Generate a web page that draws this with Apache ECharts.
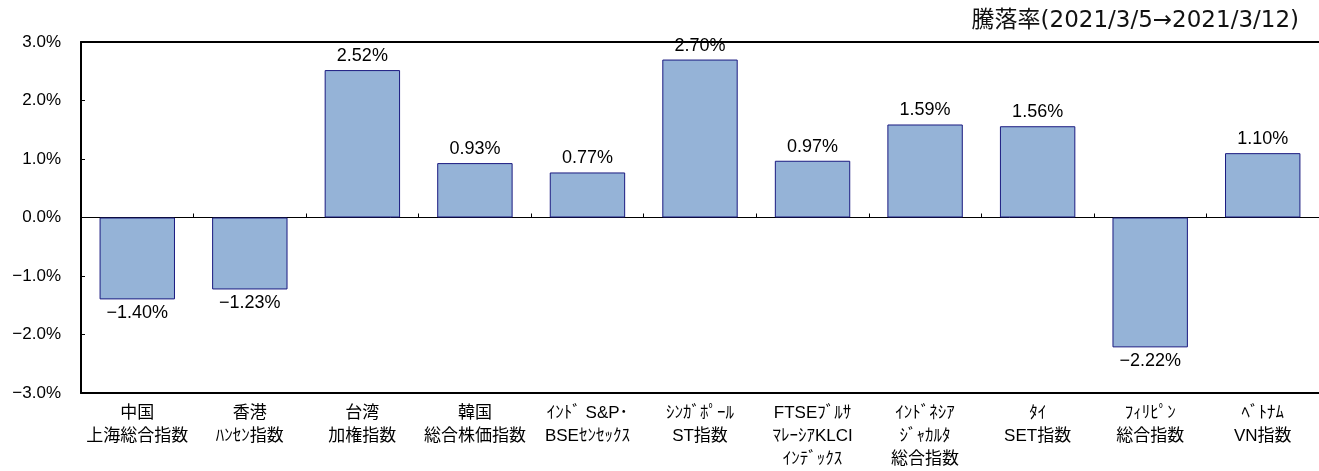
<!DOCTYPE html>
<html>
<head>
<meta charset="utf-8">
<script src="https://cdn.jsdelivr.net/npm/echarts@6/dist/echarts.min.js"></script>
<style>html,body{margin:0;padding:0;background:#fff}#c{width:1319px;height:471px}</style>
</head>
<body>
<div id="c"></div>
<script>
const categories = ["中国\n上海総合指数", "香港\nﾊﾝｾﾝ指数", "台湾\n加権指数", "韓国\n総合株価指数", "ｲﾝﾄﾞ S&P･\nBSEｾﾝｾｯｸｽ", "ｼﾝｶﾞﾎﾟｰﾙ\nST指数", "FTSEﾌﾞﾙｻ\nﾏﾚｰｼｱKLCI\nｲﾝﾃﾞｯｸｽ", "ｲﾝﾄﾞﾈｼｱ\nｼﾞｬｶﾙﾀ\n総合指数", "ﾀｲ\nSET指数", "ﾌｨﾘﾋﾟﾝ\n総合指数", "ﾍﾞﾄﾅﾑ\nVN指数"];
const values = [-1.40, -1.23, 2.52, 0.93, 0.77, 2.70, 0.97, 1.59, 1.56, -2.22, 1.10];
const yTicks = [-3, -2, -1, 0, 1, 2, 3];
const titleText = "騰落率(2021/3/5→2021/3/12)";

const fmtPct = (v, d) => (v < 0 ? "\u2212" : "") + Math.abs(v).toFixed(d) + "%";
const FONT = "'Liberation Sans', 'Noto Sans CJK JP', sans-serif";
const chart = echarts.init(document.getElementById('c'), null, {renderer: 'canvas'});
chart.setOption({
  animation: false,
  title: {
    text: titleText, right: 15, top: 5,
    textStyle: {fontSize: 23, fontWeight: 'normal', color: '#111', fontFamily: "'DejaVu Sans', 'Noto Sans CJK JP', sans-serif"}
  },
  grid: {left: 81, right: 0, top: 42, bottom: 78, containLabel: false},
  xAxis: [
    {type: 'category', data: categories, position: 'bottom',
     axisLine: {onZero: true, lineStyle: {color: '#000', width: 1}},
     axisTick: {show: true, inside: true, length: 4, lineStyle: {color: '#000'}},
     axisLabel: {show: false}, splitLine: {show: false}},
    {type: 'category', data: categories, position: 'bottom',
     axisLine: {onZero: false, lineStyle: {color: '#000', width: 2}},
     axisTick: {show: false},
     axisLabel: {show: true, interval: 0, margin: 9, color: '#000', fontSize: 17, lineHeight: 23, fontFamily: FONT}},
    {type: 'category', data: categories, position: 'top',
     axisLine: {onZero: false, lineStyle: {color: '#000', width: 2}},
     axisTick: {show: false}, axisLabel: {show: false}}
  ],
  yAxis: {
    type: 'value', min: yTicks[0], max: yTicks[yTicks.length - 1], interval: 1,
    axisLine: {show: true, lineStyle: {color: '#000', width: 2}},
    axisTick: {show: true, inside: true, length: 4, lineStyle: {color: '#000'}},
    splitLine: {show: false},
    axisLabel: {margin: 20, color: '#000', fontSize: 17, fontFamily: FONT,
      formatter: v => fmtPct(v, 1)}
  },
  series: [{
    type: 'bar', xAxisIndex: 0, barWidth: '67%',
    data: values.map(v => ({value: v, label: {position: v < 0 ? 'bottom' : 'top'}})),
    itemStyle: {color: '#95B3D7', borderColor: '#1a1a80', borderWidth: 1},
    label: {show: true, color: '#000', fontSize: 18, fontFamily: FONT, distance: 5,
      formatter: p => fmtPct(p.value, 2)}
  }]
});
</script>
</body>
</html>
